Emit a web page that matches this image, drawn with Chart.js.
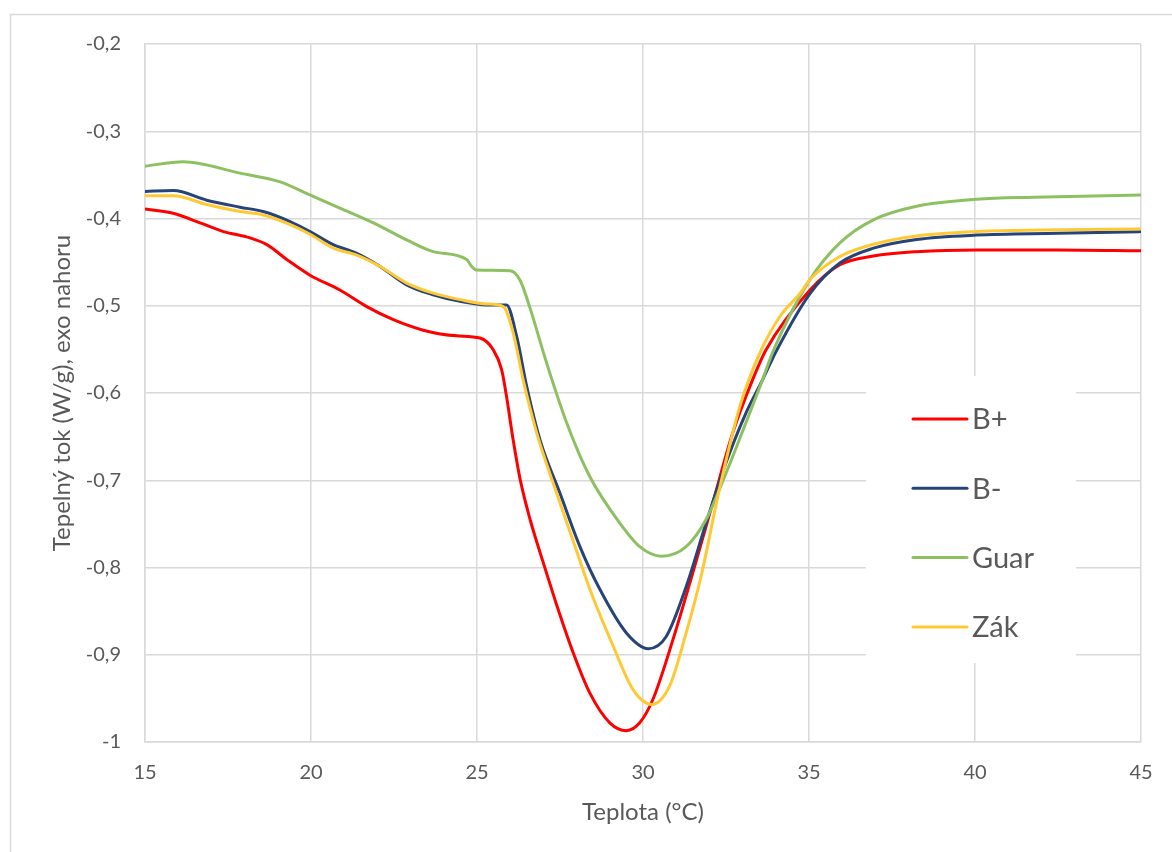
<!DOCTYPE html>
<html>
<head>
<meta charset="utf-8">
<script src="https://cdn.jsdelivr.net/npm/chart.js@4/dist/chart.umd.min.js"></script>
<style>
  body { margin: 0; background: #fff; }
</style>
</head>
<body>
<canvas id="dscChart" width="1172" height="852"></canvas>
<script>
// Series names and colours
const seriesNames = ["B+", "B-", "Guar", "Zák"];
const seriesColors = ["#ff0000", "#264478", "#8dc061", "#ffc935"];

// B+ (red)
const bPlusX = [15, 15.85, 16.66, 17.36, 18.06, 18.67, 19.27, 19.97, 20.87, 21.68, 22.48, 23.38, 24.39, 25.09, 25.49, 25.74, 25.89, 26.09, 26.3, 26.6, 26.9, 27.1, 27.4, 27.9, 28.4, 29.0, 29.5, 29.9, 30.3, 30.9, 31.5, 32.1, 32.7, 33.3, 33.7, 35.03, 35.93, 36.94, 38.24, 40.05, 42.5, 45];
const bPlusY = [-0.389, -0.394, -0.405, -0.415, -0.421, -0.430, -0.447, -0.465, -0.482, -0.501, -0.516, -0.528, -0.5345, -0.537, -0.5505, -0.573, -0.604, -0.654, -0.699, -0.745, -0.783, -0.807, -0.843, -0.898, -0.944, -0.978, -0.987, -0.978, -0.951, -0.883, -0.806, -0.726, -0.646, -0.585, -0.551, -0.482, -0.453, -0.443, -0.438, -0.436, -0.436, -0.437];

// B- (dark blue)
const bMinusX = [15, 15.85, 16.86, 17.86, 18.56, 19.37, 19.97, 20.67, 21.38, 22.08, 22.88, 23.68, 24.49, 25.29, 25.89, 26.2, 26.5, 26.9, 27.5, 28.1, 28.7, 29.5, 30.16, 30.7, 31.3, 31.9, 32.5, 33.1, 33.6, 34.0, 35.03, 35.93, 36.94, 38.24, 40.05, 42.5, 45];
const bMinusY = [-0.369, -0.368, -0.379, -0.387, -0.392, -0.4035, -0.415, -0.430, -0.440, -0.455, -0.476, -0.4875, -0.495, -0.499, -0.499, -0.536, -0.593, -0.654, -0.715, -0.776, -0.825, -0.875, -0.893, -0.879, -0.822, -0.749, -0.680, -0.623, -0.585, -0.553, -0.486, -0.451, -0.434, -0.424, -0.419, -0.417, -0.415];

// Guar (green)
const guarX = [15, 16.15, 17.86, 19.07, 19.97, 20.87, 21.88, 22.88, 23.68, 24.69, 24.84, 24.99, 26.0, 26.3, 26.6, 27.1, 27.7, 28.4, 29.3, 29.9, 30.56, 31.3, 31.9, 32.5, 33.1, 33.6, 33.93, 35.03, 35.93, 36.94, 38.24, 40.05, 41.76, 45];
const guarY = [-0.340, -0.335, -0.348, -0.358, -0.373, -0.388, -0.405, -0.4245, -0.438, -0.447, -0.455, -0.459, -0.460, -0.471, -0.503, -0.566, -0.634, -0.696, -0.749, -0.776, -0.787, -0.776, -0.745, -0.692, -0.634, -0.585, -0.551, -0.470, -0.428, -0.4016, -0.386, -0.378, -0.3756, -0.373];

// Zák (yellow)
const zakX = [15, 15.85, 16.86, 17.86, 18.56, 19.37, 19.97, 20.67, 21.38, 22.08, 22.88, 23.68, 24.49, 25.29, 25.79, 26.09, 26.39, 26.8, 27.4, 27.9, 28.4, 29.1, 29.7, 30.26, 30.8, 31.3, 31.75, 32.32, 32.92, 33.52, 34.13, 34.73, 35.03, 35.93, 36.94, 38.24, 40.05, 42.5, 45];
const zakY = [-0.374, -0.374, -0.384, -0.392, -0.396, -0.407, -0.418, -0.434, -0.442, -0.455, -0.474, -0.4856, -0.493, -0.498, -0.501, -0.531, -0.585, -0.646, -0.715, -0.770, -0.825, -0.890, -0.940, -0.957, -0.936, -0.875, -0.810, -0.707, -0.615, -0.554, -0.512, -0.486, -0.470, -0.4436, -0.4295, -0.420, -0.415, -0.413, -0.412];

// Axis ticks
const xTicks = [15, 20, 25, 30, 35, 40, 45];
const yTicks = [-1, -0.9, -0.8, -0.7, -0.6, -0.5, -0.4, -0.3, -0.2];

const xs = [bPlusX, bMinusX, guarX, zakX];
const ys = [bPlusY, bMinusY, guarY, zakY];

const textColor = "#595959";
const gridColor = "#d9d9d9";
const fontFamily = "Lato, 'Liberation Sans', sans-serif";

function toPoints(xArr, yArr) {
  return xArr.map(function (x, i) {
    return { x: x, y: yArr[i] };
  });
}

function czNumber(v) {
  return String(Number(v.toFixed(1))).replace(".", ",");
}

// Outer frame of the chart
const framePlugin = {
  id: "frame",
  beforeDraw: function (chart) {
    const ctx = chart.ctx;
    ctx.save();
    ctx.fillStyle = "#ffffff";
    ctx.fillRect(0, 0, chart.width, chart.height);
    ctx.strokeStyle = gridColor;
    ctx.lineWidth = 1.5;
    ctx.strokeRect(10.5, 14.5, chart.width + 20, chart.height + 20);
    ctx.restore();
  },
};

// Legend drawn inside the plot area, Excel style
const insideLegend = {
  id: "insideLegend",
  afterDatasetsDraw: function (chart) {
    const ctx = chart.ctx;
    const area = chart.chartArea;
    const boxLeft = area.left + 721;
    const boxTop = area.top + 332;
    ctx.save();
    ctx.fillStyle = "#ffffff";
    ctx.fillRect(boxLeft, boxTop, 210, 287);
    ctx.font = "29px " + fontFamily;
    ctx.textBaseline = "middle";
    ctx.textAlign = "left";
    seriesNames.forEach(function (name, i) {
      const y = boxTop + 43 + i * 69.3;
      ctx.strokeStyle = seriesColors[i];
      ctx.lineWidth = 3;
      ctx.lineCap = "round";
      ctx.beginPath();
      ctx.moveTo(boxLeft + 47, y);
      ctx.lineTo(boxLeft + 101, y);
      ctx.stroke();
      ctx.fillStyle = textColor;
      ctx.fillText(name, boxLeft + 106, y + 1);
    });
    ctx.restore();
  },
};

const ctxDsc = document.getElementById("dscChart").getContext("2d");
const dscChart = new Chart(ctxDsc, {
  type: "line",
  data: {
    datasets: seriesNames.map(function (name, i) {
      return {
        label: name,
        data: toPoints(xs[i], ys[i]),
        borderColor: seriesColors[i],
        backgroundColor: seriesColors[i],
        borderWidth: 3,
        pointRadius: 0,
        cubicInterpolationMode: "monotone",
        fill: false,
        order: seriesNames.length - i,
      };
    }),
  },
  options: {
    responsive: false,
    animation: false,
    layout: {
      padding: { left: 48, top: 44, right: 31, bottom: 25 },
    },
    scales: {
      x: {
        type: "linear",
        min: 15,
        max: 45,
        afterBuildTicks: function (scale) {
          scale.ticks = xTicks.map(function (v) {
            return { value: v };
          });
        },
        afterFit: function (scale) {
          scale.height = 85;
        },
        grid: {
          color: gridColor,
          lineWidth: 1.5,
          drawTicks: false,
        },
        border: { color: gridColor, width: 1.5 },
        ticks: {
          padding: 19,
          color: textColor,
          font: { family: fontFamily, size: 20 },
          maxRotation: 0,
        },
        title: {
          display: true,
          text: "Teplota (°C)",
          color: textColor,
          font: { family: fontFamily, size: 24 },
          padding: { top: 0, bottom: 0 },
        },
      },
      y: {
        type: "linear",
        min: -1,
        max: -0.2,
        afterBuildTicks: function (scale) {
          scale.ticks = yTicks.map(function (v) {
            return { value: v };
          });
        },
        afterFit: function (scale) {
          scale.width = 145 - 48;
        },
        grid: {
          color: gridColor,
          lineWidth: 1.5,
          drawTicks: false,
        },
        border: { color: gridColor, width: 1.5 },
        ticks: {
          padding: 24,
          color: textColor,
          font: { family: fontFamily, size: 20 },
          callback: function (value) {
            return czNumber(value);
          },
        },
        title: {
          display: true,
          text: "Tepelný tok (W/g), exo nahoru",
          color: textColor,
          font: { family: fontFamily, size: 24 },
          padding: { top: 0, bottom: 0 },
        },
      },
    },
    plugins: {
      legend: { display: false },
      tooltip: { enabled: false },
      title: { display: false },
    },
  },
  plugins: [framePlugin, insideLegend],
});
</script>
</body>
</html>
